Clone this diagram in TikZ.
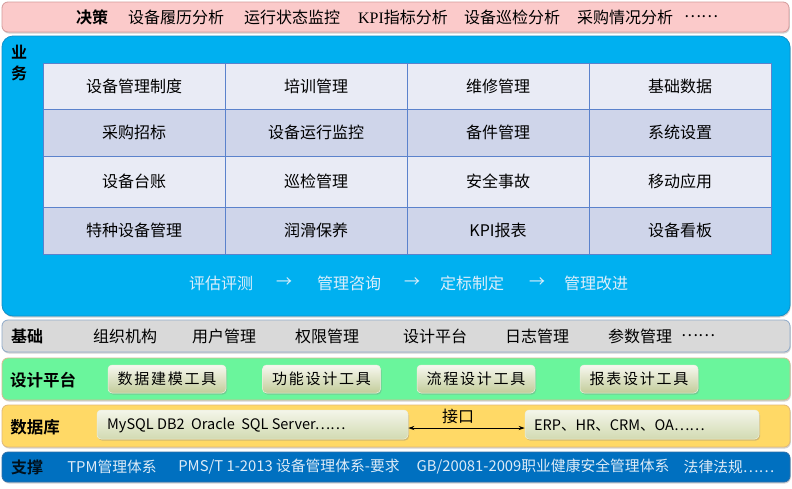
\documentclass[tikz,border=0pt]{standalone}
\usepackage{fontspec}
\setmainfont{Noto Sans CJK SC}[BoldFont={Noto Sans CJK SC Bold}]
\usetikzlibrary{shadows,arrows.meta}
\definecolor{decfill}{HTML}{FBCACA}
\definecolor{decdraw}{HTML}{D49A9A}
\definecolor{busfill}{HTML}{00B0F0}
\definecolor{busdraw}{HTML}{1290C8}
\definecolor{celllight}{HTML}{E9EBF5}
\definecolor{celldark}{HTML}{CFD5EA}
\definecolor{cellline}{HTML}{5B82CC}
\definecolor{proctext}{HTML}{DDEEFA}
\definecolor{basefill}{HTML}{D9D9D9}
\definecolor{basedraw}{HTML}{8EA9C8}
\definecolor{desfill}{HTML}{6AF59C}
\definecolor{desdraw}{HTML}{D8B890}
\definecolor{dbfill}{HTML}{FFD966}
\definecolor{dbdraw}{HTML}{E0B878}
\definecolor{supfill}{HTML}{0070C0}
\definecolor{supdraw}{HTML}{2F6FA8}
\definecolor{suptext}{HTML}{DDEBF7}
\definecolor{btntop}{HTML}{F8F8F0}
\definecolor{btnbot}{HTML}{C2CC9A}
\definecolor{dbbtop}{HTML}{F4F6EA}
\definecolor{dbbbot}{HTML}{D2DAB2}
\tikzset{
  band/.style={rounded corners=6pt, minimum width=788pt, inner sep=0pt, line width=0.8pt,
    drop shadow={shadow xshift=0.8pt, shadow yshift=-1.5pt, opacity=0.35}},
  cell/.style={draw=cellline, line width=0.9pt, minimum width=182pt, inner sep=0pt,
    font=\fontsize{16}{18}\selectfont},
  lt/.style={fill=celllight},
  dk/.style={fill=celldark},
  txt/.style={inner sep=0pt, font=\fontsize{16}{18}\selectfont},
  lbl/.style={inner sep=0pt, font=\fontsize{16}{18}\selectfont\bfseries},
  proc/.style={inner sep=0pt, text=proctext, font=\fontsize{16}{18}\selectfont},
  sup/.style={inner sep=0pt, text=suptext, font=\fontsize{14.8}{16}\selectfont},
  btn/.style={rounded corners=4pt, top color=btntop, bottom color=btnbot, draw=white!70!btnbot,
    line width=0.5pt, minimum width=118pt, minimum height=28pt, inner sep=0pt,
    font=\fontsize{15}{18}\selectfont\addfontfeatures{LetterSpace=12},
    drop shadow={shadow xshift=1pt, shadow yshift=-1.5pt, opacity=0.35}},
  dbbox/.style={rounded corners=4pt, top color=dbbtop, bottom color=dbbbot, draw=white!60!dbbbot,
    line width=0.5pt, minimum height=29pt, inner sep=0pt,
    drop shadow={shadow xshift=1pt, shadow yshift=-1.5pt, opacity=0.35}},
}
\begin{document}
\begin{tikzpicture}[x=1pt,y=-1pt]
\useasboundingbox[fill=white] (0,0) rectangle (792,488);

% ---- 决策
\node[band, fill=decfill, draw=decdraw, minimum width=787pt, minimum height=30pt] (dec) at (395.5,17) {};
\node[lbl] (decl) at (92,17) {决策};
\node[txt] (d1) at (176,17) {设备履历分析};
\node[txt] (d2) at (292,17) {运行状态监控};
\node[txt] (d3) at (403,17) {{\fontspec{Liberation Serif}KPI}指标分析};
\node[txt] (d4) at (512,17) {设备巡检分析};
\node[txt] (d5) at (625,17) {采购情况分析};
\node[txt] (d6) at (701,17) {……};

% ---- 业务
\node[band, rounded corners=11pt, fill=busfill, draw=busdraw, minimum height=280pt] (bus) at (396,176) {};
\node[lbl, align=center, font=\fontsize{16}{21}\selectfont\bfseries] (busl) at (19,63) {业\\务};

\node[cell, lt, minimum height=46pt] (c11) at (134,86) {设备管理制度};
\node[cell, lt, minimum height=46pt] (c12) at (316,86) {培训管理};
\node[cell, lt, minimum height=46pt] (c13) at (498,86) {维修管理};
\node[cell, lt, minimum height=46pt] (c14) at (680,86) {基础数据};
\node[cell, dk, minimum height=47pt] (c21) at (134,132.5) {采购招标};
\node[cell, dk, minimum height=47pt] (c22) at (316,132.5) {设备运行监控};
\node[cell, dk, minimum height=47pt] (c23) at (498,132.5) {备件管理};
\node[cell, dk, minimum height=47pt] (c24) at (680,132.5) {系统设置};
\node[cell, lt, minimum height=51pt] (c31) at (134,181.5) {设备台账};
\node[cell, lt, minimum height=51pt] (c32) at (316,181.5) {巡检管理};
\node[cell, lt, minimum height=51pt] (c33) at (498,181.5) {安全事故};
\node[cell, lt, minimum height=51pt] (c34) at (680,181.5) {移动应用};
\node[cell, dk, minimum height=47pt] (c41) at (134,230.5) {特种设备管理};
\node[cell, dk, minimum height=47pt] (c42) at (316,230.5) {润滑保养};
\node[cell, dk, minimum height=47pt] (c43) at (498,230.5) {KPI报表};
\node[cell, dk, minimum height=47pt] (c44) at (680,230.5) {设备看板};

\node[proc] (p1) at (221,283) {评估评测};
\node[proc] (a1) at (284,283) {→};
\node[proc] (p2) at (349,283) {管理咨询};
\node[proc] (a2) at (412,283) {→};
\node[proc] (p3) at (472,283) {定标制定};
\node[proc] (a3) at (537,283) {→};
\node[proc] (p4) at (596,283) {管理改进};

% ---- 基础
\node[band, fill=basefill, draw=basedraw, minimum height=32pt] (base) at (396,336) {};
\node[lbl] (basel) at (27,336) {基础};
\node[txt] (b1) at (125,336) {组织机构};
\node[txt] (b2) at (224,336) {用户管理};
\node[txt] (b3) at (327,336) {权限管理};
\node[txt] (b4) at (435,336) {设计平台};
\node[txt] (b5) at (537,336) {日志管理};
\node[txt] (b6) at (640,336) {参数管理};
\node[txt] (b7) at (698,336) {……};

% ---- 设计平台
\node[band, fill=desfill, draw=desdraw, minimum height=42pt] (des) at (396,379) {};
\node[lbl, font=\fontsize{16.5}{18}\selectfont\bfseries] (desl) at (43,380) {设计平台};
\node[btn] (t1) at (167,379) {数据建模工具};
\node[btn] (t2) at (321.5,379) {功能设计工具};
\node[btn] (t3) at (476,379) {流程设计工具};
\node[btn] (t4) at (639,379) {报表设计工具};

% ---- 数据库
\node[band, fill=dbfill, draw=dbdraw, minimum height=42pt] (db) at (396,426) {};
\node[lbl, font=\fontsize{16.5}{18}\selectfont\bfseries] (dbl) at (35,427) {数据库};
\node[dbbox, minimum width=311pt] (db1) at (252.5,424.5) {};
\node[inner sep=0pt, anchor=west, font=\fontsize{14.5}{16}\selectfont] (db1t) at (107,425.5) {MySQL DB2\ \ Oracle\ \ SQL Server……};
\node[dbbox, minimum width=234pt] (db2) at (642,424.5) {};
\node[inner sep=0pt, anchor=west, font=\fontsize{14.5}{16}\selectfont] (db2t) at (534,425.5) {ERP、HR、CRM、OA……};
\draw[{Stealth[length=6pt,width=4pt]}-{Stealth[length=6pt,width=4pt]}, line width=0.8pt]
  ([yshift=-3.5pt]db1.east) -- ([yshift=-3.5pt]db2.west);
\node[txt] (iface) at (458,416) {接口};

% ---- 支撑
\node[band, fill=supfill, draw=supdraw, minimum height=30pt] (sup) at (396,467) {};
\node[lbl, text=black!85!supfill] (supl) at (27,467) {支撑};
\node[sup] (s1) at (112,467) {TPM管理体系};
\node[sup] (s2) at (289,467) {PMS/T 1-2013 设备管理体系-要求};
\node[sup] (s3) at (543,467) {GB/20081-2009职业健康安全管理体系};
\node[sup] (s4) at (729,467) {法律法规……};
\end{tikzpicture}
\end{document}
